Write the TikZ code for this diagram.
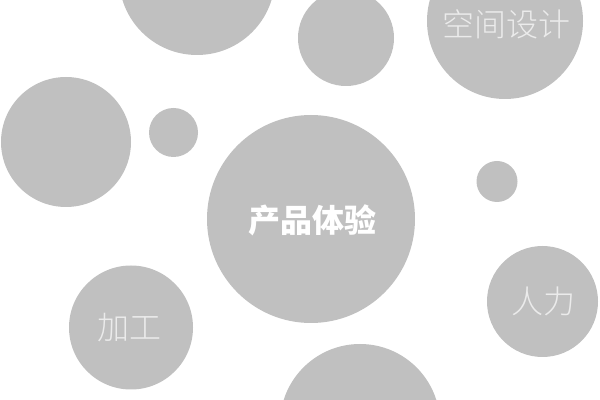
\documentclass[tikz,border=0pt]{standalone}
\usepackage{fontspec}
\newfontfamily\cjk{Noto Sans CJK SC}
\newfontfamily\cjklight{Noto Sans CJK SC Light}
\definecolor{bubblegray}{HTML}{C0C0C0}
\definecolor{labelgray}{HTML}{EBEBEB}
\tikzset{
  bubble/.style={circle,fill=bubblegray,inner sep=0pt},
  thinlabel/.style={text=labelgray,font=\cjklight\fontsize{32bp}{36bp}\selectfont},
  boldlabel/.style={text=white,font=\cjk\bfseries\fontsize{32bp}{36bp}\selectfont}
}
\begin{document}
\begin{tikzpicture}
  \useasboundingbox (0bp,0bp) rectangle (600bp,400bp);
  \clip (0bp,0bp) rectangle (600bp,400bp);
%%
  % Node: top
  \node [bubble,minimum size=156bp] (top) at (197bp,423bp) {};
  % Node: topmid
  \node [bubble,minimum size=96bp] (topmid) at (346bp,362bp) {};
  % Node: space
  \node [bubble,minimum size=156bp] (space) at (505bp,379bp) {};
  \node [thinlabel] (space_text) at (506bp,376bp) {空间设计};
  % Node: left
  \node [bubble,minimum size=130bp] (left) at (66bp,258bp) {};
  % Node: dot
  \node [bubble,minimum size=49bp] (dot) at (173.5bp,267.5bp) {};
  % Node: product
  \node [bubble,minimum size=208bp] (product) at (311bp,181bp) {};
  \node [boldlabel] (product_text) at (312bp,180bp) {产品体验};
  % Node: dotright
  \node [bubble,minimum size=41bp] (dotright) at (497bp,218.5bp) {};
  % Node: labor
  \node [bubble,minimum size=111bp] (labor) at (542.5bp,98.5bp) {};
  \node [thinlabel] (labor_text) at (543bp,99bp) {人力};
  % Node: process
  \node [bubble,minimum size=124bp] (process) at (131bp,72.5bp) {};
  \node [thinlabel] (process_text) at (129bp,72bp) {加工};
  % Node: bottom
  \node [bubble,minimum size=160bp] (bottom) at (360bp,-24bp) {};
%
\end{tikzpicture}
\end{document}
